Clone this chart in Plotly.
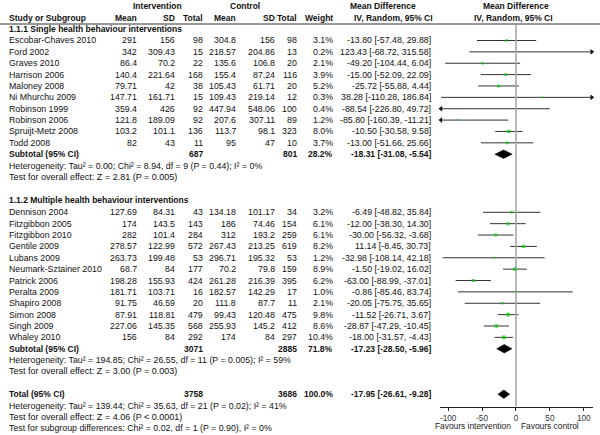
import plotly.graph_objects as go

# ---------------- data ----------------
studies1 = ["Escobar-Chaves 2010", "Ford 2002", "Graves 2010", "Harrison 2006", "Maloney 2008",
            "Ni Mhurchu 2009", "Robinson 1999", "Robinson 2006", "Spruijt-Metz 2008", "Todd 2008"]
int_mean1 = [291, 342, 86.4, 140.4, 79.71, 147.71, 359.4, 121.8, 103.2, 82]
int_sd1 = [156, 309.43, 70.2, 221.64, 42, 161.71, 426, 189.09, 101.1, 43]
int_n1 = [98, 15, 22, 168, 38, 15, 92, 92, 136, 11]
ctl_mean1 = [304.8, 218.57, 135.6, 155.4, 105.43, 109.43, 447.94, 207.6, 113.7, 95]
ctl_sd1 = [156, 204.86, 106.8, 87.24, 61.71, 219.14, 548.06, 307.11, 98.1, 47]
ctl_n1 = [98, 13, 20, 116, 20, 12, 100, 89, 323, 10]
weight1 = [3.1, 0.2, 2.1, 3.9, 5.2, 0.3, 0.4, 1.2, 8.0, 3.7]
md1 = [-13.80, 123.43, -49.20, -15.00, -25.72, 38.28, -88.54, -85.80, -10.50, -13.00]
lo1 = [-57.48, -68.72, -104.44, -52.09, -55.88, -110.28, -226.80, -160.39, -30.58, -51.66]
hi1 = [29.88, 315.58, 6.04, 22.09, 4.44, 186.84, 49.72, -11.21, 9.58, 25.66]
sub1 = dict(n_int=687, n_ctl=801, weight=28.2, md=-18.31, lo=-31.08, hi=-5.54)
het1 = "Heterogeneity: Tau² = 0.00; Chi² = 8.94, df = 9 (P = 0.44); I² = 0%"
test1 = "Test for overall effect: Z = 2.81 (P = 0.005)"

studies2 = ["Dennison 2004", "Fitzgibbon 2005", "Fitzgibbon 2010", "Gentile 2009", "Lubans 2009",
            "Neumark-Sztainer 2010", "Patrick 2006", "Peralta 2009", "Shapiro 2008", "Simon 2008",
            "Singh 2009", "Whaley 2010"]
int_mean2 = [127.69, 174, 282, 278.57, 263.73, 68.7, 198.28, 181.71, 91.75, 87.91, 227.06, 156]
int_sd2 = [84.31, 143.5, 101.4, 122.99, 199.48, 84, 155.93, 103.71, 46.59, 118.81, 145.35, 84]
int_n2 = [43, 143, 284, 572, 53, 177, 424, 16, 20, 479, 568, 292]
ctl_mean2 = [134.18, 186, 312, 267.43, 296.71, 70.2, 261.28, 182.57, 111.8, 99.43, 255.93, 174]
ctl_sd2 = [101.17, 74.46, 193.2, 213.25, 195.32, 79.8, 216.39, 142.29, 87.7, 120.48, 145.2, 84]
ctl_n2 = [34, 154, 259, 619, 53, 159, 395, 17, 11, 475, 412, 297]
weight2 = [3.2, 6.1, 6.1, 8.2, 1.2, 8.9, 6.2, 1.0, 2.1, 9.8, 8.6, 10.4]
md2 = [-6.49, -12.00, -30.00, 11.14, -32.98, -1.50, -63.00, -0.86, -20.05, -11.52, -28.87, -18.00]
lo2 = [-48.82, -38.30, -56.32, -8.45, -108.14, -19.02, -88.99, -85.46, -75.75, -26.71, -47.29, -31.57]
hi2 = [35.84, 14.30, -3.68, 30.73, 42.18, 16.02, -37.01, 83.74, 35.65, 3.67, -10.45, -4.43]
sub2 = dict(n_int=3071, n_ctl=2885, weight=71.8, md=-17.23, lo=-28.50, hi=-5.96)
het2 = "Heterogeneity: Tau² = 194.85; Chi² = 26.55, df = 11 (P = 0.005); I² = 59%"
test2 = "Test for overall effect: Z = 3.00 (P = 0.003)"

total = dict(n_int=3758, n_ctl=3686, weight=100.0, md=-17.95, lo=-26.61, hi=-9.28)
het_tot = "Heterogeneity: Tau² = 139.44; Chi² = 35.63, df = 21 (P = 0.02); I² = 41%"
test_tot = "Test for overall effect: Z = 4.06 (P < 0.0001)"
test_sub = "Test for subgroup differences: Chi² = 0.02, df = 1 (P = 0.90), I² = 0%"

group_titles = ["1.1.1 Single health behaviour interventions", "1.1.2 Multiple health behaviour interventions"]
tick_vals = [-100, -50, 0, 50, 100]
tick_text = ["-100", "-50", "0", "50", "100"]

# ---------------- layout constants (pixels) ----------------
W, H = 600, 435
XMIN, XMAX = -112.2, 113.3
PX0, PX1 = 439.9, 592.8
AXIS_Y = 406.7
DY = 11.37
FONT = "Liberation Sans, Arial, sans-serif"
FS = 8.8
FSB = 8.5
FSN = 9.0   # notes (heterogeneity / tests)
GREEN = "#00cc00"

COLX = [138, 175.7, 204, 237, 275.7, 298.3, 334.3, 431.7]
LEFTX = 7.5

Y_HEAD_TOP = 6.5
Y_HEAD = 17.5
Y_LINE = 24
Y_G1_TITLE = 29.5
Y_G1 = 40.5
Y_G2_TITLE = 199.8
Y_G2 = 212.3

ann = []


def px(x):
    return x / W


def py(y):
    return 1 - y / H


def text(x, y, s, anchor="left", bold=False, color="#111", size=None):
    if size is None:
        size = FSB if bold else FS
    ann.append(dict(x=px(x), y=py(y), xref="paper", yref="paper", text=("<b>%s</b>" % s) if bold else s,
                    showarrow=False, xanchor=anchor, yanchor="middle",
                    font=dict(family=FONT, size=size, color=color), borderpad=0))


def fmt(v):
    return f"{v:g}"


# headers
text(157, Y_HEAD_TOP, "Intervention", "center", True)
text(245, Y_HEAD_TOP, "Control", "center", True)
text(383, Y_HEAD_TOP, "Mean Difference", "center", True)
text(515.5, Y_HEAD_TOP, "Mean Difference", "center", True)
text(LEFTX, Y_HEAD, "Study or Subgroup", "left", True)
for x, s in zip(COLX[:7], ["Mean", "SD", "Total", "Mean", "SD", "Total", "Weight"]):
    text(x, Y_HEAD, s, "right", True)
text(393, Y_HEAD, "IV, Random, 95% CI", "center", True)
text(513.3, Y_HEAD, "IV, Random, 95% CI", "center", True)

study_y, study_md, study_lo, study_hi, study_w = [], [], [], [], []
diamonds = []


def group(title, y_title, y0, names, im, isd, inn, cm, csd, cn, w, md, lo, hi, sub, het, test):
    text(LEFTX, y_title, title, "left", True)
    for i, nm in enumerate(names):
        y = y0 + i * DY
        text(LEFTX + 0.8, y, nm)
        vals = [fmt(im[i]), fmt(isd[i]), str(inn[i]), fmt(cm[i]), fmt(csd[i]), str(cn[i]),
                f"{w[i]:.1f}%", f"{md[i]:.2f} [{lo[i]:.2f}, {hi[i]:.2f}]"]
        for x, s in zip(COLX, vals):
            text(x, y, s, "right")
        study_y.append(y)
        study_md.append(md[i])
        study_lo.append(lo[i])
        study_hi.append(hi[i])
        study_w.append(w[i])
    ys = y0 + len(names) * DY
    text(LEFTX, ys, "Subtotal (95% CI)", "left", True)
    text(COLX[2], ys, str(sub["n_int"]), "right", True)
    text(COLX[5], ys, str(sub["n_ctl"]), "right", True)
    text(COLX[6], ys, f"{sub['weight']:.1f}%", "right", True)
    text(COLX[7], ys, f"{sub['md']:.2f} [{sub['lo']:.2f}, {sub['hi']:.2f}]", "right", True)
    diamonds.append((ys, sub))
    text(LEFTX, ys + DY, het, size=FS)
    text(LEFTX, ys + 2 * DY, test, size=FSN)
    return ys + 2 * DY


group(group_titles[0], Y_G1_TITLE, Y_G1, studies1, int_mean1, int_sd1, int_n1, ctl_mean1, ctl_sd1,
      ctl_n1, weight1, md1, lo1, hi1, sub1, het1, test1)
last = group(group_titles[1], Y_G2_TITLE, Y_G2, studies2, int_mean2, int_sd2, int_n2, ctl_mean2, ctl_sd2,
             ctl_n2, weight2, md2, lo2, hi2, sub2, het2, test2)

yt = last + 2 * DY
text(LEFTX, yt, "Total (95% CI)", "left", True)
text(COLX[2], yt, str(total["n_int"]), "right", True)
text(COLX[5], yt, str(total["n_ctl"]), "right", True)
text(COLX[6], yt, f"{total['weight']:.1f}%", "right", True)
text(COLX[7], yt, f"{total['md']:.2f} [{total['lo']:.2f}, {total['hi']:.2f}]", "right", True)
diamonds.append((yt, total))
text(LEFTX, yt + DY, het_tot, size=FS)
text(LEFTX, yt + 2 * DY, test_tot, size=FSN)
text(LEFTX, yt + 3 * DY, test_sub, size=FS)

text(512, 425.5, "Favours intervention", "right", color="#222", size=8.4)
text(520, 425.5, "Favours control", "left", color="#222", size=8.4)

# ---------------- forest traces ----------------
fig = go.Figure()

lx, ly = [], []
arr_l_x, arr_l_y, arr_r_x, arr_r_y = [], [], [], []
for y, l, h in zip(study_y, study_lo, study_hi):
    lc = max(l, XMIN)
    hc = min(h, XMAX)
    lx += [lc, hc, None]
    ly += [y, y, None]
    if l < XMIN:
        arr_l_x.append(XMIN + 1.5)
        arr_l_y.append(y)
    if h > XMAX:
        arr_r_x.append(XMAX - 1.5)
        arr_r_y.append(y)

fig.add_trace(go.Scatter(x=lx, y=ly, mode="lines", line=dict(color="#333", width=1), hoverinfo="skip"))
fig.add_trace(go.Scatter(x=arr_l_x, y=arr_l_y, mode="markers", cliponaxis=False,
                         marker=dict(symbol="triangle-left", size=5, color="#111"), hoverinfo="skip"))
fig.add_trace(go.Scatter(x=arr_r_x, y=arr_r_y, mode="markers", cliponaxis=False,
                         marker=dict(symbol="triangle-right", size=5, color="#111"), hoverinfo="skip"))
# line of no effect
fig.add_trace(go.Scatter(x=[0, 0], y=[Y_LINE + 1, AXIS_Y], mode="lines",
                         line=dict(color="#a6a6a6", width=1.6), hoverinfo="skip"))
# study squares (size by weight)
fig.add_trace(go.Scatter(x=study_md, y=study_y, mode="markers",
                         marker=dict(symbol="square", color=GREEN, line=dict(width=0),
                                     size=[1.2 + 0.75 * (w ** 0.5) for w in study_w]),
                         hoverinfo="skip"))
# pooled diamonds
for y, d in diamonds:
    hh = 4.3
    fig.add_trace(go.Scatter(x=[d["lo"], d["md"], d["hi"], d["md"], d["lo"]],
                             y=[y, y - hh, y, y + hh, y], mode="lines", fill="toself",
                             fillcolor="black", line=dict(color="black", width=0.5), hoverinfo="skip"))

fig.update_layout(
    width=W, height=H, margin=dict(l=0, r=0, t=0, b=0, autoexpand=False),
    paper_bgcolor="white", plot_bgcolor="white", showlegend=False,
    annotations=ann,
    shapes=[dict(type="line", xref="paper", yref="paper", x0=0, x1=1, y0=py(Y_LINE), y1=py(Y_LINE),
                 line=dict(color="#333", width=1))],
    xaxis=dict(domain=[px(PX0), px(PX1)], range=[XMIN, XMAX], anchor="y",
               showline=True, linecolor="#222", linewidth=1, mirror=False,
               ticks="outside", ticklen=3, tickcolor="#222", tickwidth=1,
               tickvals=tick_vals, ticktext=tick_text, showgrid=False, zeroline=False,
               tickfont=dict(family=FONT, size=8.2, color="#333")),
    yaxis=dict(domain=[(H - AXIS_Y) / H, 1], range=[AXIS_Y, 0], visible=False,
               showgrid=False, zeroline=False),
)

fig.write_html("out.html", config={"displayModeBar": False, "staticPlot": True},
               post_script="document.body.style.margin='0px';document.body.style.overflow='hidden';")
